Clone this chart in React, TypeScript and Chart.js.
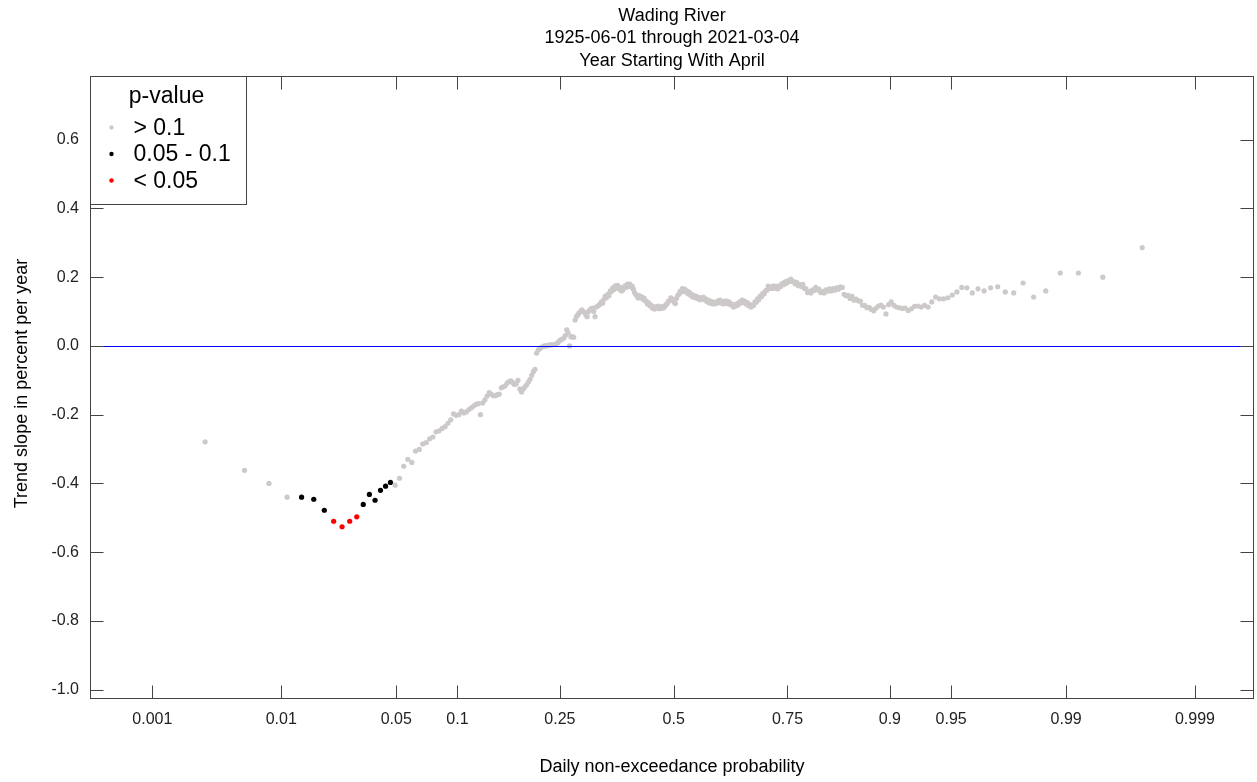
import React, { useEffect, useRef } from "react";
import { Chart, registerables } from "chart.js";

Chart.register(...registerables);

const TITLE_LINES = ["Wading River", "1925-06-01 through 2021-03-04", "Year Starting With April"];
const X_TITLE = "Daily non-exceedance probability";
const Y_TITLE = "Trend slope in percent per year";

// Points are the daily quantiles k/365, k = 1..364
const DAYS_IN_YEAR = 365;
const SLOPES = [
  -0.279, -0.362, -0.400, -0.440, -0.440, -0.446, -0.478, -0.510, -0.526, -0.510,
  -0.497, -0.461, -0.432, -0.449, -0.420, -0.408, -0.397, -0.405, -0.385, -0.350,
  -0.330, -0.339, -0.306, -0.301, -0.285, -0.281, -0.270, -0.265, -0.250, -0.247,
  -0.240, -0.235, -0.225, -0.215, -0.198, -0.202, -0.200, -0.190, -0.195, -0.192,
  -0.185, -0.180, -0.175, -0.170, -0.168, -0.200, -0.166, -0.157, -0.146, -0.136,
  -0.140, -0.145, -0.145, -0.142, -0.140, -0.122, -0.119, -0.116, -0.108, -0.104,
  -0.102, -0.107, -0.112, -0.110, -0.100, -0.125, -0.134, -0.125, -0.119, -0.113,
  -0.105, -0.097, -0.086, -0.075, -0.068, -0.021, -0.012, -0.008, -0.004, -0.002,
  0.000, 0.000, 0.001, 0.002, 0.003, 0.003, 0.004, 0.004, 0.007, 0.010,
  0.015, 0.018, 0.020, 0.023, 0.030, 0.047, 0.038, 0.000, 0.026, 0.027,
  0.025, 0.075, 0.085, 0.090, 0.097, 0.100, 0.105, 0.100, 0.097, 0.090,
  0.085, 0.100, 0.105, 0.108, 0.110, 0.100, 0.085, 0.113, 0.116, 0.119,
  0.122, 0.128, 0.124, 0.136, 0.145, 0.140, 0.150, 0.146, 0.160, 0.158,
  0.169, 0.164, 0.175, 0.168, 0.176, 0.166, 0.170, 0.160, 0.162, 0.168,
  0.175, 0.170, 0.180, 0.174, 0.180, 0.172, 0.174, 0.165, 0.155, 0.150,
  0.145, 0.139, 0.146, 0.140, 0.143, 0.136, 0.139, 0.131, 0.130, 0.122,
  0.125, 0.117, 0.119, 0.110, 0.114, 0.107, 0.113, 0.110, 0.116, 0.108,
  0.113, 0.109, 0.115, 0.111, 0.116, 0.120, 0.124, 0.130, 0.131, 0.140,
  0.137, 0.133, 0.126, 0.123, 0.138, 0.147, 0.150, 0.159, 0.157, 0.167,
  0.161, 0.165, 0.157, 0.160, 0.152, 0.156, 0.147, 0.150, 0.142, 0.146,
  0.140, 0.144, 0.138, 0.141, 0.134, 0.139, 0.137, 0.142, 0.134, 0.137,
  0.129, 0.133, 0.125, 0.130, 0.123, 0.128, 0.122, 0.127, 0.123, 0.130,
  0.128, 0.133, 0.124, 0.128, 0.122, 0.130, 0.125, 0.130, 0.122, 0.127,
  0.119, 0.121, 0.113, 0.120, 0.116, 0.123, 0.120, 0.128, 0.125, 0.133,
  0.127, 0.130, 0.122, 0.126, 0.117, 0.121, 0.113, 0.117, 0.118, 0.128,
  0.127, 0.137, 0.134, 0.145, 0.143, 0.153, 0.151, 0.160, 0.162, 0.174,
  0.167, 0.172, 0.167, 0.175, 0.168, 0.173, 0.166, 0.175, 0.173, 0.181,
  0.178, 0.186, 0.182, 0.189, 0.187, 0.194, 0.187, 0.187, 0.180, 0.185,
  0.175, 0.178, 0.173, 0.179, 0.167, 0.166, 0.155, 0.158, 0.154, 0.163,
  0.161, 0.170, 0.163, 0.165, 0.155, 0.158, 0.154, 0.163, 0.159, 0.166,
  0.160, 0.167, 0.162, 0.169, 0.165, 0.172, 0.170, 0.150, 0.146, 0.147,
  0.138, 0.144, 0.133, 0.136, 0.131, 0.130, 0.118, 0.118, 0.111, 0.112,
  0.106, 0.102, 0.110, 0.116, 0.119, 0.113, 0.093, 0.120, 0.128, 0.118,
  0.113, 0.111, 0.109, 0.110, 0.103, 0.108, 0.115, 0.116, 0.113, 0.118,
  0.113, 0.128, 0.142, 0.137, 0.137, 0.140, 0.148, 0.157, 0.170, 0.169,
  0.154, 0.166, 0.160, 0.169, 0.172, 0.157, 0.154, 0.183, 0.142, 0.160,
  0.212, 0.212, 0.200, 0.286,
];
const SIG_05_DAYS = [8, 9, 10, 11];
const SIG_10_DAYS = [5, 6, 7, 12, 13, 14, 15, 16, 17];

const X_TICK_PROBS = [0.001, 0.01, 0.05, 0.1, 0.25, 0.5, 0.75, 0.9, 0.95, 0.99, 0.999];
const X_TICK_LABELS = ["0.001", "0.01", "0.05", "0.1", "0.25", "0.5", "0.75", "0.9", "0.95", "0.99", "0.999"];
const Y_TICKS = [-1.0, -0.8, -0.6, -0.4, -0.2, 0.0, 0.2, 0.4, 0.6];

const LEGEND_TITLE = "p-value";
const LEGEND_LABELS = ["> 0.1", "0.05 - 0.1", "< 0.05"];
const COLORS = ["#CDC9C9", "#000000", "#FF0000"];

const FONT = "'Liberation Sans', Arial, Helvetica, sans-serif";

function qnorm(p: number): number {
  const a = [-3.969683028665376e1, 2.209460984245205e2, -2.759285104469687e2, 1.38357751867269e2, -3.066479806614716e1, 2.506628277459239];
  const b = [-5.447609879822406e1, 1.615858368580409e2, -1.556989798598866e2, 6.680131188771972e1, -1.328068155288572e1];
  const c = [-7.784894002430293e-3, -3.223964580411365e-1, -2.400758277161838, -2.549732539343734, 4.374664141464968, 2.938163982698783];
  const d = [7.784695709041462e-3, 3.224671290700398e-1, 2.445134137142996, 3.754408661907416];
  const pl = 0.02425;
  const ph = 1 - pl;
  if (p < pl) {
    const q = Math.sqrt(-2 * Math.log(p));
    return (((((c[0] * q + c[1]) * q + c[2]) * q + c[3]) * q + c[4]) * q + c[5]) / ((((d[0] * q + d[1]) * q + d[2]) * q + d[3]) * q + 1);
  }
  if (p <= ph) {
    const q = p - 0.5;
    const r = q * q;
    return ((((((a[0] * r + a[1]) * r + a[2]) * r + a[3]) * r + a[4]) * r + a[5]) * q) / (((((b[0] * r + b[1]) * r + b[2]) * r + b[3]) * r + b[4]) * r + 1);
  }
  const q = Math.sqrt(-2 * Math.log(1 - p));
  return -(((((c[0] * q + c[1]) * q + c[2]) * q + c[3]) * q + c[4]) * q + c[5]) / ((((d[0] * q + d[1]) * q + d[2]) * q + d[3]) * q + 1);
}

const framePlugin = {
  id: "framePlugin",
  afterDatasetsDraw(chart: any) {
    const { ctx, chartArea } = chart;
    const { left, right } = chartArea;
    const yScale = chart.scales.y;
    ctx.save();
    const y0 = Math.round(yScale.getPixelForValue(0)) + 0.5;
    ctx.strokeStyle = "#0000FF";
    ctx.lineWidth = 1;
    ctx.beginPath();
    ctx.moveTo(left, y0);
    ctx.lineTo(right, y0);
    ctx.stroke();
    ctx.restore();
  },
  afterDraw(chart: any) {
    const { ctx, chartArea } = chart;
    const { left, right, top, bottom } = chartArea;
    const xScale = chart.scales.x;
    const yScale = chart.scales.y;
    ctx.save();
    ctx.strokeStyle = "#444444";
    ctx.lineWidth = 1;
    const L = Math.round(left) + 0.5;
    const R = Math.round(right) - 0.5;
    const T = Math.round(top) + 0.5;
    const B = Math.round(bottom) - 0.5;
    ctx.strokeRect(L, T, R - L, B - T);
    const TL = 13;
    ctx.beginPath();
    X_TICK_PROBS.forEach((p) => {
      const x = Math.round(xScale.getPixelForValue(qnorm(p))) + 0.5;
      ctx.moveTo(x, B);
      ctx.lineTo(x, B - TL);
      ctx.moveTo(x, T);
      ctx.lineTo(x, T + TL);
    });
    Y_TICKS.forEach((v) => {
      const y = Math.round(yScale.getPixelForValue(v)) + 0.5;
      ctx.moveTo(L, y);
      ctx.lineTo(L + TL, y);
      ctx.moveTo(R, y);
      ctx.lineTo(R - TL, y);
    });
    ctx.stroke();

    // titles
    const cx = (left + right) / 2;
    ctx.fillStyle = "#000000";
    ctx.textAlign = "center";
    ctx.textBaseline = "middle";
    ctx.font = `18px ${FONT}`;
    TITLE_LINES.forEach((t, i) => ctx.fillText(t, cx, 16 + i * 22.5));
    ctx.fillText(X_TITLE, cx, 767);
    ctx.save();
    ctx.translate(22, (top + bottom) / 2 - 4);
    ctx.rotate(-Math.PI / 2);
    ctx.fillText(Y_TITLE, 0, 0);
    ctx.restore();

    // legend
    const lx0 = L;
    const ly0 = T;
    const lw = 156;
    const lh = 128;
    ctx.fillStyle = "#FFFFFF";
    ctx.fillRect(lx0, ly0, lw, lh);
    ctx.strokeStyle = "#444444";
    ctx.strokeRect(lx0, ly0, lw, lh);
    ctx.fillStyle = "#000000";
    ctx.font = `23px ${FONT}`;
    ctx.textAlign = "center";
    ctx.fillText(LEGEND_TITLE, lx0 + 76, ly0 + 20);
    ctx.textAlign = "left";
    LEGEND_LABELS.forEach((lab, i) => {
      const yy = ly0 + 51 + i * 26.5;
      ctx.fillStyle = COLORS[i];
      ctx.beginPath();
      ctx.arc(lx0 + 21, yy, 2.2, 0, Math.PI * 2);
      ctx.fill();
      ctx.fillStyle = "#000000";
      ctx.fillText(lab, lx0 + 43, yy + 1);
    });
    ctx.restore();
  },
};

export default function App() {
  const canvasRef = useRef<HTMLCanvasElement | null>(null);

  useEffect(() => {
    document.body.style.margin = "0";
    const canvas = canvasRef.current;
    if (!canvas) return;

    const gray: { x: number; y: number }[] = [];
    const black: { x: number; y: number }[] = [];
    const red: { x: number; y: number }[] = [];
    SLOPES.forEach((v, i) => {
      const day = i + 1;
      const pt = { x: qnorm(day / DAYS_IN_YEAR), y: v };
      if (SIG_05_DAYS.includes(day)) red.push(pt);
      else if (SIG_10_DAYS.includes(day)) black.push(pt);
      else gray.push(pt);
    });

    const pointStyle = (color: string) => ({
      backgroundColor: color,
      borderColor: color,
      borderWidth: 0,
      pointRadius: 2.6,
      pointHoverRadius: 2.6,
      showLine: false,
    });

    const chart = new Chart(canvas, {
      type: "scatter",
      data: {
        datasets: [
          { label: LEGEND_LABELS[0], data: gray, ...pointStyle(COLORS[0]) },
          { label: LEGEND_LABELS[1], data: black, ...pointStyle(COLORS[1]) },
          { label: LEGEND_LABELS[2], data: red, ...pointStyle(COLORS[2]) },
        ],
      },
      options: {
        animation: false,
        responsive: false,
        maintainAspectRatio: false,
        devicePixelRatio: 1,
        layout: { padding: { top: 76, right: 3, bottom: 0, left: 0 } },
        plugins: {
          legend: { display: false },
          title: { display: false },
          tooltip: { enabled: false },
        },
        events: [],
        scales: {
          x: {
            type: "linear",
            min: -3.46,
            max: 3.44,
            grid: { display: false, drawTicks: false },
            border: { display: false },
            afterBuildTicks: (scale: any) => {
              scale.ticks = X_TICK_PROBS.map((p) => ({ value: qnorm(p) }));
            },
            afterFit: (scale: any) => {
              scale.height = 83;
            },
            ticks: {
              autoSkip: false,
              maxRotation: 0,
              minRotation: 0,
              padding: 11,
              color: "#222222",
              font: { family: FONT, size: 16 },
              callback: (_v: any, idx: number) => X_TICK_LABELS[idx],
            },
          },
          y: {
            type: "linear",
            min: -1.027,
            max: 0.785,
            grid: { display: false, drawTicks: false },
            border: { display: false },
            afterBuildTicks: (scale: any) => {
              scale.ticks = Y_TICKS.map((v) => ({ value: v }));
            },
            afterFit: (scale: any) => {
              scale.width = 90;
            },
            ticks: {
              autoSkip: false,
              padding: 11,
              color: "#222222",
              font: { family: FONT, size: 16 },
              callback: (v: any) => Number(v).toFixed(1),
            },
          },
        },
      },
      plugins: [framePlugin],
    });

    return () => chart.destroy();
  }, []);

  return (
    <div style={{ position: "fixed", left: 0, top: 0, width: 1257, height: 782, background: "#FFFFFF" }}>
      <canvas ref={canvasRef} width={1257} height={782} style={{ width: 1257, height: 782, display: "block" }} />
    </div>
  );
}
